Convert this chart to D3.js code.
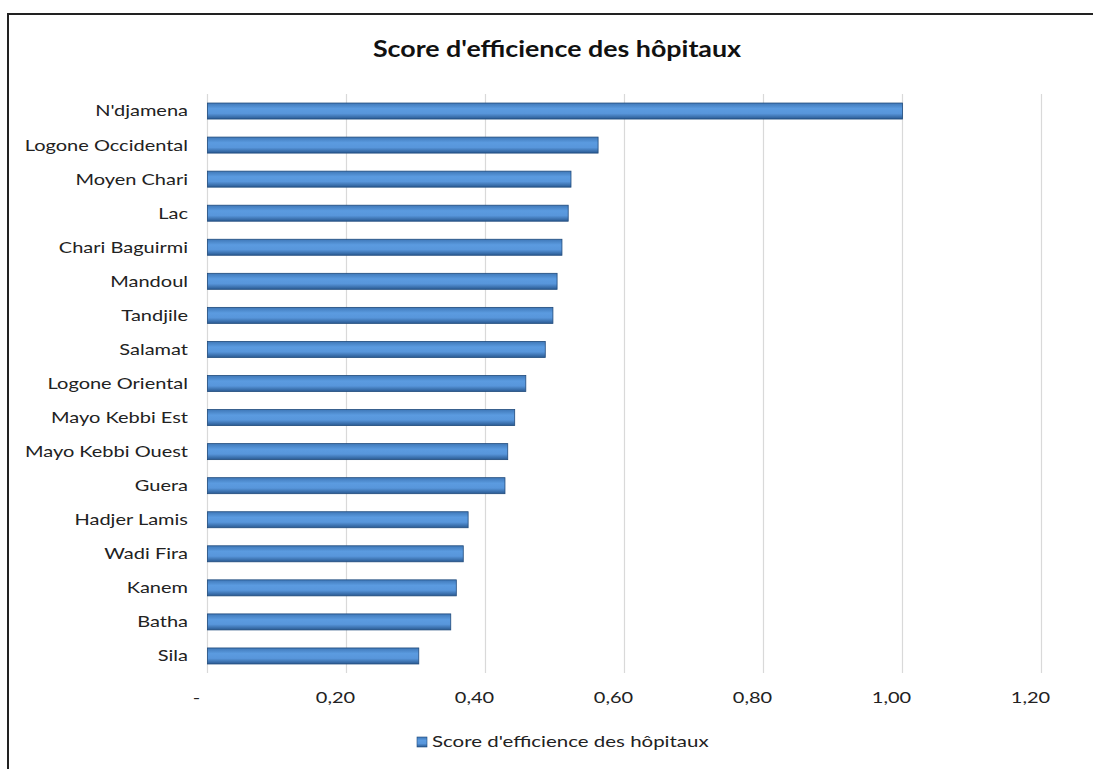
<!DOCTYPE html>
<html><head><meta charset="utf-8">
<script src="https://cdn.jsdelivr.net/npm/d3@7"></script>
<style>body{margin:0;background:#fff}svg{display:block}</style>
</head><body>
<svg id="c" width="1093" height="769"></svg>
<script>
const categories = ["N'djamena","Logone Occidental","Moyen Chari","Lac","Chari Baguirmi","Mandoul","Tandjile","Salamat","Logone Oriental","Mayo Kebbi Est","Mayo Kebbi Ouest","Guera","Hadjer Lamis","Wadi Fira","Kanem","Batha","Sila"];
const values = [1.00,0.562,0.523,0.519,0.510,0.503,0.497,0.486,0.458,0.442,0.432,0.428,0.375,0.368,0.358,0.350,0.304];
const tickValues = [0,0.2,0.4,0.6,0.8,1.0,1.2];
const tickLabels = ["-","0,20","0,40","0,60","0,80","1,00","1,20"];
const seriesName = "Score d'efficience des hôpitaux";
const title = "Score d'efficience des hôpitaux";

const font = "Lato, 'Open Sans', sans-serif";
const SX = 1.29;
const svg = d3.select("#c");
const defs = svg.append("defs");
const g = defs.append("linearGradient").attr("id","bg").attr("x1",0).attr("x2",0).attr("y1",0).attr("y2",1);
g.append("stop").attr("offset","0%").attr("stop-color","#3f78b8");
g.append("stop").attr("offset","35%").attr("stop-color","#5b9be0");
g.append("stop").attr("offset","65%").attr("stop-color","#5896db");
g.append("stop").attr("offset","100%").attr("stop-color","#2a5a92");

// border
svg.append("rect").attr("x",8).attr("y",14).attr("width",1100).attr("height",800)
  .attr("fill","none").attr("stroke","#222").attr("stroke-width",2);

const x = d3.scaleLinear().domain([0,1.2]).range([207.5,1041.5]);
const y = d3.scaleBand().domain(categories).range([94,673]).paddingInner(0.53).paddingOuter(0.265);

// gridlines
svg.append("g").selectAll("line").data(tickValues).join("line")
  .attr("x1",d=>x(d)).attr("x2",d=>x(d)).attr("y1",94).attr("y2",673)
  .attr("stroke","#d9d9d9").attr("stroke-width",1.2);

// bars
svg.append("g").selectAll("rect").data(values).join("rect")
  .attr("x",x(0)).attr("y",(d,i)=>y(categories[i]))
  .attr("width",d=>x(d)-x(0)).attr("height",y.bandwidth())
  .attr("fill","url(#bg)").attr("stroke","#1f4a7c").attr("stroke-width",0.8);

// category labels
svg.append("g").selectAll("g").data(categories).join("g")
  .attr("transform",d=>`translate(188,${y(d)+y.bandwidth()/2}) scale(${SX},1)`)
  .append("text").attr("dy","0.35em")
  .attr("text-anchor","end").attr("font-family",font).attr("font-size",15.5)
  .attr("fill","#222").text(d=>d);

// x tick labels
svg.append("g").selectAll("g").data(tickValues).join("g")
  .attr("transform",d=>`translate(${x(d)-11},703) scale(${SX},1)`)
  .append("text")
  .attr("text-anchor","middle").attr("font-family",font).attr("font-size",15.5)
  .attr("fill","#222").text((d,i)=>tickLabels[i]);

// title
svg.append("g").attr("transform","translate(557,57) scale(1.22,1)")
  .append("text").attr("text-anchor","middle")
  .attr("font-family",font).attr("font-weight","bold").attr("font-size",22)
  .attr("fill","#111").text(title);

// legend
svg.append("rect").attr("x",417).attr("y",737).attr("width",10).attr("height",10)
  .attr("fill","url(#bg)").attr("stroke","#1f4a7c").attr("stroke-width",0.6);
svg.append("g").attr("transform","translate(432,742) scale(1.32,1)")
  .append("text").attr("dy","0.35em")
  .attr("font-family",font).attr("font-size",15.5).attr("fill","#222").text(seriesName);
</script>
</body></html>
